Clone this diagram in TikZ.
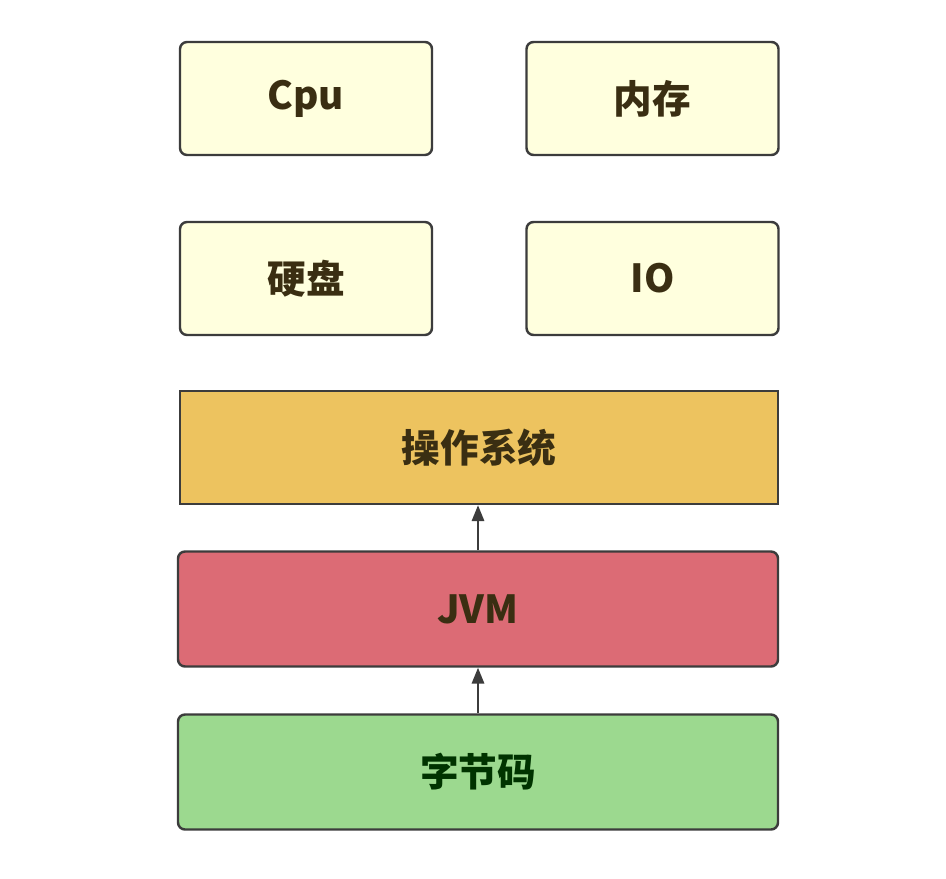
\documentclass[tikz,border=0pt]{standalone}
\usepackage{fontspec}
\newfontfamily\cjk{Noto Sans CJK SC}
\usepackage{tikz}
\usetikzlibrary{arrows.meta,positioning}
\definecolor{HwFill}{HTML}{FFFFDE}
\definecolor{OsFill}{HTML}{EDC35F}
\definecolor{JvmFill}{HTML}{DC6B75}
\definecolor{BcFill}{HTML}{9CD98F}
\definecolor{BoxLine}{HTML}{3C3C3C}
\definecolor{TxtDark}{HTML}{3A2E12}
\tikzset{
  hw/.style    = {draw=BoxLine, line width=1.4pt, rounded corners=4pt, fill=HwFill,
                  minimum width=5.04cm, minimum height=2.26cm, align=center,
                  font=\cjk\bfseries\fontsize{22}{26}\selectfont, text=TxtDark},
  capa/.style  = {draw=BoxLine, line width=1.4pt, rounded corners=4pt,
                  minimum width=12cm, minimum height=2.3cm, align=center,
                  font=\cjk\bfseries\fontsize{22}{26}\selectfont, text=TxtDark},
  flecha/.style = {-{Triangle[length=9pt,width=7pt]}, line width=1.2pt, draw=BoxLine},
}
\begin{document}
\begin{tikzpicture}
  \useasboundingbox[fill=white] (0,0) rectangle (18.92,-17.56);
  % hardware
  \node[hw] (cpu) at (6.12,-1.97) {Cpu};
  \node[hw] (mem) at (13.05,-1.97) {内存};
  \node[hw] (disk) at (6.12,-5.57) {硬盘};
  \node[hw] (io) at (13.05,-5.57) {IO};
  % layers
  \node[capa,fill=OsFill,rounded corners=0pt,minimum width=11.96cm,minimum height=2.26cm] (os) at (9.58,-8.95) {操作系统};
  \node[capa,fill=JvmFill] (jvm) at (9.56,-12.18) {JVM};
  \node[capa,fill=BcFill,text=black!80!green] (bc) at (9.56,-15.44) {字节码};
  \draw[flecha] (jvm.north) -- (os.south -| jvm.north);
  \draw[flecha] (bc.north) -- (jvm.south);
\end{tikzpicture}
\end{document}
